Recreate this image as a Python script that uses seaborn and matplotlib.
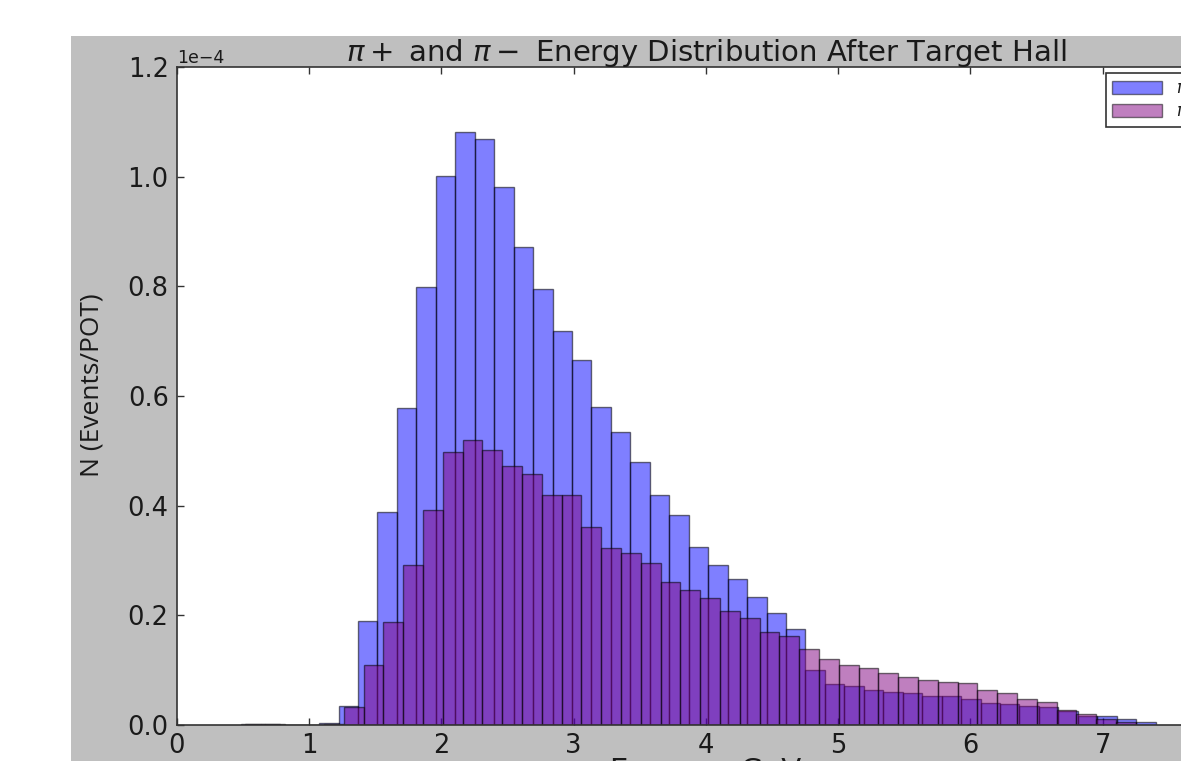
import numpy as np
import pandas as pd
import matplotlib
matplotlib.use("Agg")
import matplotlib.pyplot as plt
from matplotlib.patches import Patch, Rectangle
import seaborn as sns

# bin range (GeV) and per-bin height (units of 1e-4 events/POT)
pip_range = (0.486, 7.40)
pip_heights = [0.002, 0.002, 0.0, 0.0, 0.003, 0.035, 0.190, 0.389, 0.578, 0.798,
               1.002, 1.082, 1.069, 0.982, 0.871, 0.796, 0.718, 0.665, 0.580, 0.535,
               0.479, 0.419, 0.383, 0.325, 0.292, 0.267, 0.234, 0.205, 0.175, 0.100,
               0.075, 0.072, 0.064, 0.061, 0.058, 0.052, 0.052, 0.047, 0.040, 0.038,
               0.035, 0.032, 0.026, 0.017, 0.017, 0.011, 0.006]

pim_range = (0.5135, 7.25)
pim_heights = [0.002, 0.002, 0.0, 0.0, 0.002, 0.032, 0.110, 0.188, 0.292, 0.392,
               0.497, 0.520, 0.501, 0.473, 0.458, 0.419, 0.419, 0.362, 0.322, 0.313,
               0.295, 0.260, 0.247, 0.231, 0.208, 0.195, 0.170, 0.163, 0.138, 0.120,
               0.109, 0.104, 0.094, 0.0875, 0.082, 0.078, 0.077, 0.063, 0.058, 0.047,
               0.042, 0.027, 0.020, 0.011, 0.0055]

series_labels = [r"$\pi +$", r"$\pi -$"]
series_colors = ["#0000ff", "#800080"]

sns.set_style("white")
plt.rcParams["font.family"] = ["DejaVu Sans"]
plt.rcParams["mathtext.fontset"] = "dejavusans"
plt.rcParams["text.color"] = "#1a1a1a"
plt.rcParams["axes.labelcolor"] = "#1a1a1a"
plt.rcParams["xtick.color"] = "#1a1a1a"
plt.rcParams["ytick.color"] = "#1a1a1a"

W, H = 1181, 761
fig = plt.figure(figsize=(W / 100, H / 100), dpi=100, facecolor="white")
# grey window background of the original screenshot
fig.add_artist(Rectangle((71 / W, 0), 1 - 71 / W, 1 - 36 / H, transform=fig.transFigure,
                         facecolor="#bfbfbf", edgecolor="none", zorder=-10))

ax = fig.add_axes([177 / W, 36 / H, (1235 - 177) / W, (725 - 67) / H])
ax.set_facecolor("white")

for (lo, hi), heights, color in [(pip_range, pip_heights, series_colors[0]),
                                 (pim_range, pim_heights, series_colors[1])]:
    edges = np.linspace(lo, hi, len(heights) + 1)
    df = pd.DataFrame({"energy": (edges[:-1] + edges[1:]) / 2,
                       "n": np.array(heights) * 1e-4})
    sns.histplot(data=df, x="energy", weights="n", bins=list(edges),
                 color=color, alpha=0.5, edgecolor=(0, 0, 0, 0.55), linewidth=1.0, ax=ax)

ax.set_xlim(0, 8)
ax.set_ylim(0, 1.2e-4)
ax.set_xticks(range(0, 8))
ax.ticklabel_format(axis="y", style="sci", scilimits=(0, 0))
ax.yaxis.get_offset_text().set_fontsize(12.5)

for s in ax.spines.values():
    s.set_color("#333333")
    s.set_linewidth(1.2)
ax.tick_params(direction="in", length=5, width=1, color="#333333",
               top=True, right=True, bottom=True, left=True,
               labelsize=18.5, pad=6)

ax.set_title(r"$\pi +$ and $\pi -$ Energy Distribution After Target Hall",
             fontsize=21, pad=4)
ax.set_xlabel("Energy - GeV", fontsize=21, va="top")
ax.xaxis.set_label_coords(0.5, -0.048)
ax.set_ylabel("N (Events/POT)", fontsize=19, family="Open Sans", va="center")
ax.yaxis.set_label_coords(-0.080, 0.517)

handles = [Patch(facecolor=c, edgecolor="black", alpha=0.5) for c in series_colors]
leg = ax.legend(handles, series_labels, loc="upper left",
                bbox_to_anchor=(1106 / W, 1 - 73 / H), bbox_transform=fig.transFigure,
                borderaxespad=0, fontsize=12, handlelength=3.0, handleheight=0.75,
                labelspacing=0.3, borderpad=0.38, fancybox=False, framealpha=1)
leg.get_frame().set_edgecolor("#333333")
leg.get_frame().set_linewidth(1.2)

fig.savefig("out.png", dpi=100, facecolor=fig.get_facecolor())
